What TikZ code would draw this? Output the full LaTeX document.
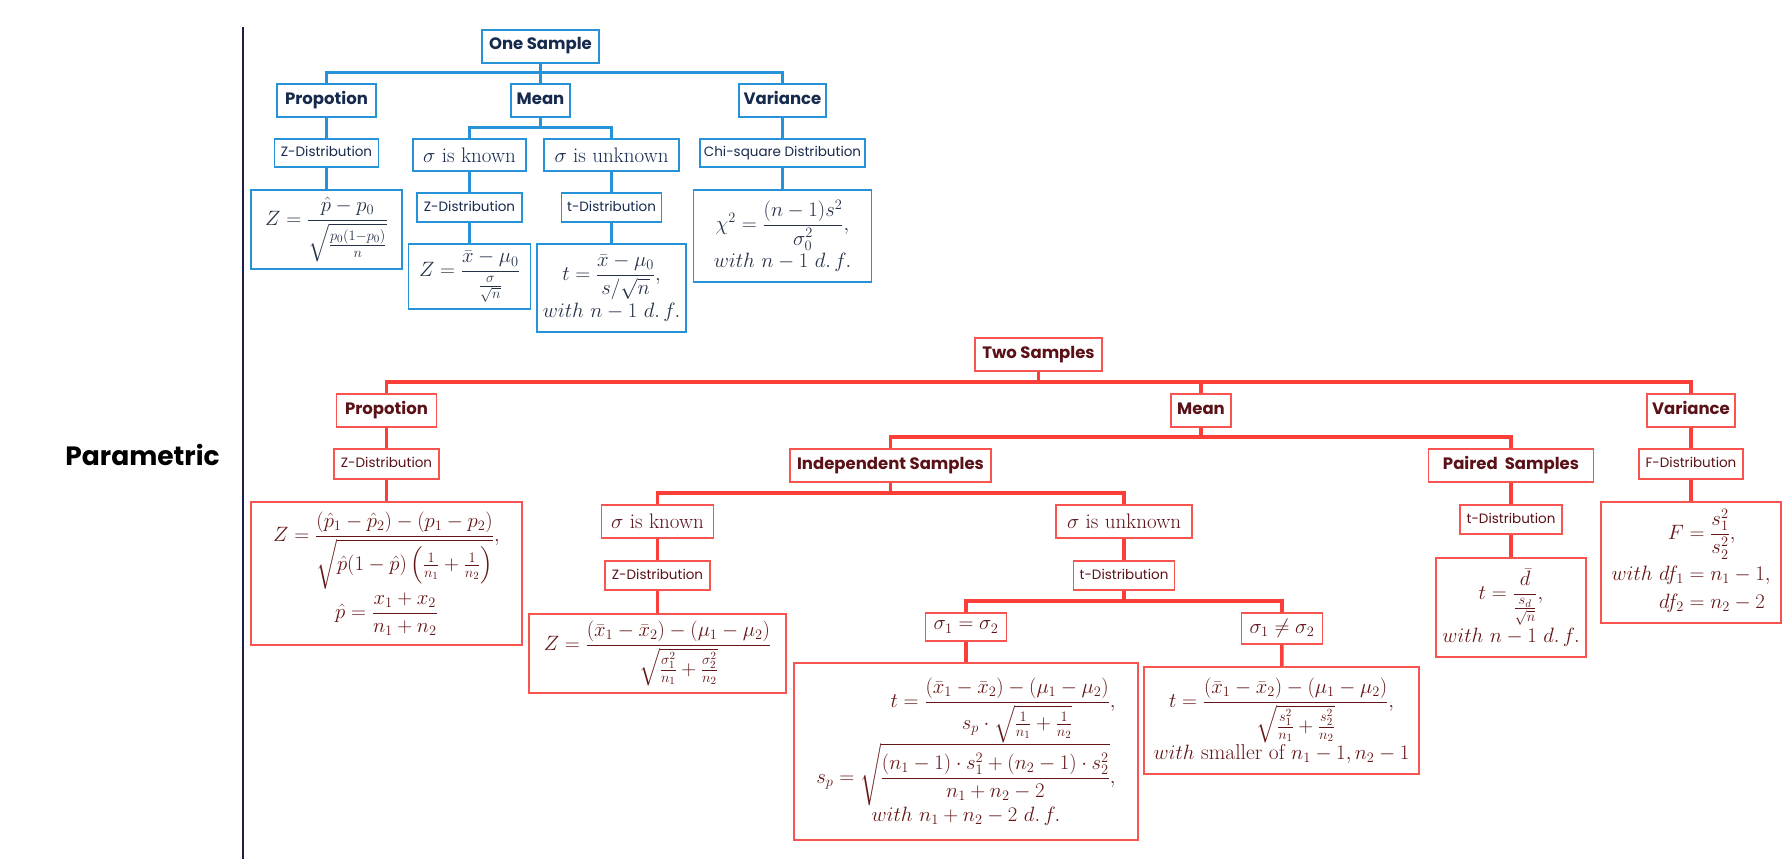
\documentclass[tikz,border=0pt]{standalone}
\usepackage{amsmath}
\usepackage{fontspec}
\newfontfamily\popfont{Poppins}
\definecolor{bline}{RGB}{38,146,215}
\definecolor{btext}{RGB}{22,42,78}
\definecolor{bmath}{RGB}{38,50,72}
\definecolor{rline}{RGB}{252,62,56}
\definecolor{rbord}{RGB}{250,84,80}
\definecolor{rtext}{RGB}{90,18,24}
\definecolor{rmath}{RGB}{100,22,22}
\definecolor{axiscol}{RGB}{30,30,75}
\tikzset{
  box/.style={draw, line width=1.6pt, fill=white, inner sep=0pt, align=center},
  bbox/.style={box, draw=bline, text=btext},
  rbox/.style={box, draw=rbord, text=rtext},
  bfm/.style={box, draw=bline, text=bmath, font=\fontsize{21.5}{25}\selectfont},
  rfm/.style={box, draw=rbord, text=rmath, font=\fontsize{21.5}{25}\selectfont},
  lab/.style={font=\popfont\bfseries\fontsize{16.5}{20}\selectfont, text height=0.7em, text depth=0pt},
  dist/.style={font=\popfont\fontsize{13.5}{16}\selectfont, text height=0.7em, text depth=0pt},
  frm/.style={font=\fontsize{21}{24}\selectfont},
  bconn/.style={draw=bline, line width=3pt},
  rconn/.style={draw=rline, line width=3.5pt},
  sz/.style 2 args={minimum width=#1, minimum height=#2},
}
\begin{document}
\begin{tikzpicture}[x=1pt,y=-1pt]
\useasboundingbox (0,0) rectangle (1791,859);
\coordinate (axtop) at (243,27);
\coordinate (axbot) at (243,859);
\draw[draw=axiscol, line width=2.2pt] (axtop) -- (axbot);
\node[font=\popfont\bfseries\fontsize{26.5}{30}\selectfont, text=black] (param) at (142.5,455) {Parametric};

% ---------------- One sample (blue) ----------------
\node[bbox,lab,sz={117}{33}] (os) at (540.5,46.5) {One Sample};
\node[bbox,lab,sz={99}{33}] (bprop) at (326.5,100.5) {Propotion};
\node[bbox,lab,sz={59}{33}] (bmean) at (540.5,100.5) {Mean};
\node[bbox,lab,sz={87}{33}] (bvar) at (782.5,100.5) {Variance};
\node[bbox,dist,sz={104}{28}] (bzd1) at (326.5,153) {Z-Distribution};
\node[bbox,frm,sz={113}{32}] (bknown) at (469.5,155) {$\sigma$ is known};
\node[bbox,frm,sz={135}{32}] (bunk) at (611.5,155) {$\sigma$ is unknown};
\node[bbox,dist,sz={165}{28}] (bchi) at (782.5,153) {Chi-square Distribution};
\node[bfm,sz={151}{79}] (bzf1) at (326.5,229.5) {$\displaystyle Z=\frac{\hat p-p_0}{\sqrt{\frac{p_0(1-p_0)}{n}}}$};
\node[bbox,dist,sz={105}{29}] (bzd2) at (469.5,207.5) {Z-Distribution};
\node[bbox,dist,sz={100}{29}] (btd) at (611.5,207.5) {t-Distribution};
\node[bfm,sz={178}{92}] (bchif) at (782.5,236) {$\displaystyle \chi^2=\frac{(n-1)s^2}{\sigma_0^2},$\\[2pt] $with\ n-1\ d.\,f.$};
\node[bfm,sz={122}{65}] (bzf2) at (469.5,276.5) {$\displaystyle Z=\frac{\bar x-\mu_0}{\frac{\sigma}{\sqrt n}}$};
\node[bfm,sz={149}{88}] (btf) at (611.5,288) {$\displaystyle t=\frac{\bar x-\mu_0}{s/\sqrt n},$\\[2pt] $with\ n-1\ d.\,f.$};

\coordinate (j1) at (540.5,73);
\draw[bconn] (os) -- (j1) (j1) -| (bprop) (j1) -| (bvar) (j1) -- (bmean);
\draw[bconn] (bprop) -- (bzd1) -- (bzf1);
\coordinate (j2) at (540.5,127);
\draw[bconn] (bmean) -- (j2) (j2) -| (bknown) (j2) -| (bunk);
\draw[bconn] (bknown) -- (bzd2) -- (bzf2);
\draw[bconn] (bunk) -- (btd) -- (btf);
\draw[bconn] (bvar) -- (bchi) -- (bchif);

% ---------------- Two samples (red) ----------------
\node[rbox,lab,sz={127}{33}] (ts) at (1038.5,354.5) {Two Samples};
\node[rbox,lab,sz={100}{33}] (rprop) at (386.5,410.5) {Propotion};
\node[rbox,lab,sz={60}{33}] (rmean) at (1201,410.5) {Mean};
\node[rbox,lab,sz={88}{33}] (rvar) at (1691,410.5) {Variance};
\node[rbox,dist,sz={105}{30}] (rzd1) at (386.5,464) {Z-Distribution};
\node[rfm,sz={271}{143}] (rzf1) at (386.5,573.5) {$\displaystyle Z=\frac{(\hat p_1-\hat p_2)-(p_1-p_2)}{\sqrt{\hat p(1-\hat p)\left(\frac{1}{n_1}+\frac{1}{n_2}\right)}},$\\[2pt] $\displaystyle \hat p=\frac{x_1+x_2}{n_1+n_2}$};
\node[rbox,lab,sz={201}{33}] (rind) at (890.5,465.5) {Independent Samples};
\node[rbox,lab,sz={165}{33}] (rpair) at (1511,465.5) {Paired\ \ Samples};
\node[rbox,dist,sz={104}{30}] (rfd) at (1691,464) {F-Distribution};
\node[rfm,sz={180}{121}] (rff) at (1691,562.5) {$\displaystyle \begin{aligned} F&=\frac{s_1^2}{s_2^2},\\ with\ df_1&=n_1-1,\\ df_2&=n_2-2\end{aligned}$};
\node[rbox,dist,sz={102}{29}] (rtd2) at (1511,519.5) {t-Distribution};
\node[rfm,sz={150}{99}] (rtf2) at (1511,607.5) {$\displaystyle t=\frac{\bar d}{\frac{s_d}{\sqrt n}},$\\[2pt] $with\ n-1\ d.\,f.$};
\node[rbox,frm,sz={112}{33}] (rknown) at (657.5,521.5) {$\sigma$ is known};
\node[rbox,frm,sz={136}{33}] (runk) at (1124,521.5) {$\sigma$ is unknown};
\node[rbox,dist,sz={105}{29}] (rzd2) at (657.5,575.5) {Z-Distribution};
\node[rbox,dist,sz={101}{29}] (rtd) at (1124,575.5) {t-Distribution};
\node[rfm,sz={257}{79}] (rzf2) at (657.5,653.5) {$\displaystyle Z=\frac{(\bar x_1-\bar x_2)-(\mu_1-\mu_2)}{\sqrt{\frac{\sigma_1^2}{n_1}+\frac{\sigma_2^2}{n_2}}}$};
\node[rbox,frm,sz={81}{28}] (req) at (966,627) {$\sigma_1=\sigma_2$};
\node[rbox,frm,sz={81}{31}] (rneq) at (1282,628.5) {$\sigma_1\neq\sigma_2$};
\node[rfm,sz={344}{177}] (reqf) at (966,751.5) {$\displaystyle\begin{array}{@{}r@{}} \displaystyle t=\frac{(\bar x_1-\bar x_2)-(\mu_1-\mu_2)}{s_p\cdot\sqrt{\frac{1}{n_1}+\frac{1}{n_2}}},\\[12pt] \displaystyle s_p=\sqrt{\frac{(n_1-1)\cdot s_1^2+(n_2-1)\cdot s_2^2}{n_1+n_2-2}},\end{array}$\\ $with\ n_1+n_2-2\ d.\,f.$};
\node[rfm,sz={275}{107}] (rneqf) at (1281.5,720.5) {$\displaystyle t=\frac{(\bar x_1-\bar x_2)-(\mu_1-\mu_2)}{\sqrt{\frac{s_1^2}{n_1}+\frac{s_2^2}{n_2}}},$\\ $with$ smaller of $n_1-1,n_2-1$};

\coordinate (k1) at (1038.5,382);
\draw[rconn] (ts) -- (k1) (k1) -| (rprop) (k1) -| (rvar) (k1) -| (rmean);
\draw[rconn] (rprop) -- (rzd1) -- (rzf1);
\draw[rconn] (rvar) -- (rfd) -- (rff);
\coordinate (k2) at (1201,437);
\draw[rconn] (rmean) -- (k2) (k2) -| (rind) (k2) -| (rpair);
\draw[rconn] (rpair) -- (rtd2) -- (rtf2);
\coordinate (k3) at (890.5,493);
\draw[rconn] (rind) -- (k3) (k3) -| (rknown) (k3) -| (runk);
\draw[rconn] (rknown) -- (rzd2) -- (rzf2);
\coordinate (k4) at (1124,601);
\draw[rconn] (runk) -- (rtd) -- (k4) (k4) -| (req) (k4) -| (rneq);
\draw[rconn] (req) -- (reqf);
\draw[rconn] (rneq) -- (rneqf);
\end{tikzpicture}
\end{document}
